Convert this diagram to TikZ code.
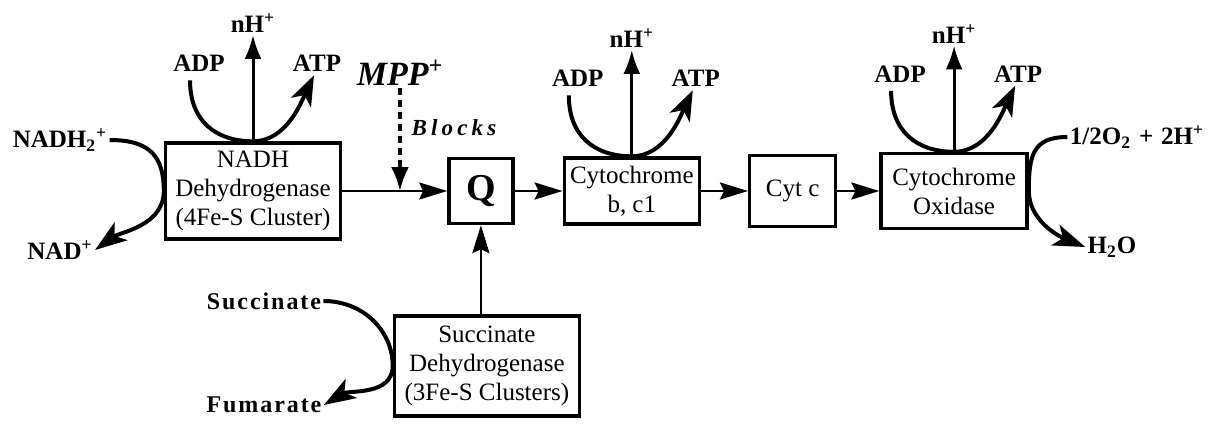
\documentclass[tikz,border=0pt]{standalone}
\usepackage{fontspec}
\setmainfont{Liberation Serif}
\usepackage{tikz}
\usetikzlibrary{arrows.meta,positioning,calc}
\tikzset{
  carrierbox/.style={
    draw,
    line width=1.7pt,
    align=center,
    inner sep=0pt,
    font=\fontsize{12.5}{14.5}\selectfont
  },
  quinonebox/.style={carrierbox, font=\bfseries\fontsize{19}{22}\selectfont},
  specieslabel/.style={inner sep=1pt, font=\bfseries\fontsize{12.5}{14}\selectfont},
  spacedlabel/.style={inner sep=1pt, font=\bfseries\fontsize{12}{14}\selectfont\addfontfeatures{LetterSpace=8}},
  inhibitorlabel/.style={inner sep=1pt, font=\bfseries\itshape\fontsize{17}{20}\selectfont},
  blocklabel/.style={inner sep=1pt, font=\bfseries\itshape\fontsize{11.5}{13}\selectfont\addfontfeatures{LetterSpace=18}},
  chainarrow/.style={-{Stealth[length=14pt,width=8.5pt,inset=2pt]}, line width=1.35pt},
  protonarrow/.style={-{Latex[length=12pt,width=8.5pt]}, line width=1.5pt},
  pumparc/.style={-{Stealth[length=15pt,width=11pt,inset=4pt]}, line width=2pt},
  sidearc/.style={-{Stealth[length=16pt,width=11pt,inset=4pt]}, line width=2pt},
  blockarrow/.style={-{Latex[length=12pt,width=9pt]}, line width=1.6pt, dash pattern=on 3.5pt off 2.5pt}
}

\begin{document}
\begin{tikzpicture}[x=0.5pt, y=-0.5pt]
  \useasboundingbox (0,0) rectangle (1214,423);

  % carriers of the chain
  \node[carrierbox, minimum width=87.5pt, minimum height=48pt] (nadh) at (253,191) {NADH\\Dehydrogenase\\(4Fe-S Cluster)};
  \node[quinonebox, minimum width=32pt, minimum height=32.5pt, right=52.5pt of nadh] (q) {Q};
  \node[carrierbox, minimum width=67.5pt, minimum height=33pt, right=24pt of q] (cytb) {Cytochrome\\b, c1};
  \node[carrierbox, minimum width=43pt, minimum height=35.5pt, right=23.5pt of cytb] (cytc) {Cyt c};
  \node[carrierbox, minimum width=73pt, minimum height=37.5pt, right=21pt of cytc] (cox) {Cytochrome\\Oxidase};
  \node[carrierbox, minimum width=92.5pt, minimum height=50pt, below=44.5pt of q, xshift=3pt] (sdh) {Succinate\\Dehydrogenase\\(3Fe-S Clusters)};

  % electron flow
  \draw[chainarrow] (nadh) -- (q);
  \draw[chainarrow] (q) -- (cytb);
  \draw[chainarrow] (cytb) -- (cytc);
  \draw[chainarrow] (cytc) -- (cox);
  \draw[chainarrow] (q.south |- sdh.north) -- (q.south);

  % inhibitor
  \coordinate (blockpt) at ($(nadh.east)!0.55!(q.west)$);
  \node[inhibitorlabel] (mpp) at (400,73) {MPP\textsuperscript{+}};
  \node[blocklabel] (blocks) at (454,128) {Blocks};
  \draw[blockarrow] (mpp.south -| blockpt) -- (blockpt);

  % proton pumping sites
  \foreach \site in {nadh,cytb,cox}{
    \node[specieslabel] (h-\site) at ($(\site.north)+(0,-118)$) {nH\textsuperscript{+}};
    \node[specieslabel] (adp-\site) at ($(\site.north)+(-54,-78)$) {ADP};
    \node[specieslabel] (atp-\site) at ($(\site.north)+(64,-78)$) {ATP};
    \coordinate (arcin-\site) at ($(\site.north)+(-63,-61)$);
    \coordinate (arcout-\site) at ($(\site.north)+(61,-66)$);
    \draw[protonarrow] (\site.north) -- (h-\site);
    \draw[pumparc] (arcin-\site) .. controls +(0,40) and +(-38,0) .. (\site.north)
      .. controls +(34,0) and +(-12,25) .. (arcout-\site);
  }

  % substrates at the sides
  \node[specieslabel] (nadhin) at (60,140) {NADH\textsubscript{2}\textsuperscript{+}};
  \node[specieslabel] (nadout) at (60,250) {NAD\textsuperscript{+}};
  \draw[sidearc] (nadhin.east) .. controls +(40,0) and +(0,-35) .. (nadh.west)
    .. controls +(0,35) and +(25,-18) .. (nadout.east);

  \node[specieslabel] (oxin) at (1137,137) {1/2O\textsubscript{2}\hspace{4pt}+\hspace{4pt}2H\textsuperscript{+}};
  \node[specieslabel] (water) at (1112,247) {H\textsubscript{2}O};
  \draw[sidearc] (oxin.west) .. controls +(-35,0) and +(0,-35) .. (cox.east)
    .. controls +(0,30) and +(-25,-10) .. (water.west);

  \node[spacedlabel] (succin) at (264,301) {Succinate};
  \node[spacedlabel] (fumout) at (264,405) {Fumarate};
  \draw[sidearc] (succin.east) .. controls +(40,0) and +(0,-35) .. (sdh.west)
    .. controls +(0,30) and +(25,-15) .. (fumout.east);
\end{tikzpicture}
\end{document}
